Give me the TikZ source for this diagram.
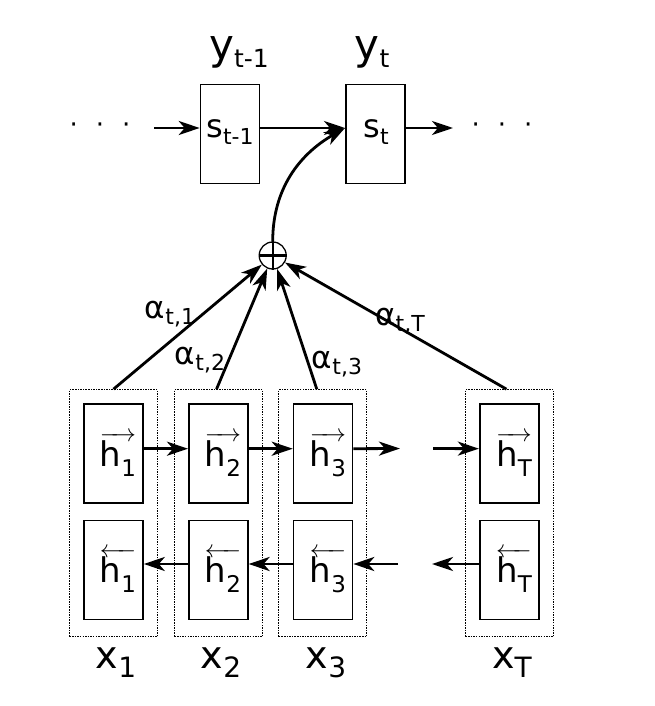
\documentclass[tikz,border=0pt]{standalone}
\usepackage{fontspec}
\setmainfont{DejaVu Sans}
\usepackage{graphicx}
\usetikzlibrary{arrows.meta}

\newcommand{\lowsub}[3]{\raisebox{-#1}{\fontsize{#2}{#2}\selectfont #3}}
\newcommand{\hfwd}[1]{$\overrightarrow{\mbox{h\lowsub{10pt}{23}{#1}}}$}
\newcommand{\hbwd}[1]{$\overleftarrow{\mbox{h\lowsub{10pt}{23}{#1}}}$}

\begin{document}
\begin{tikzpicture}[x=1pt, y=-1pt,
    cell/.style={draw, line width=1.6pt, minimum width=59pt, minimum height=99pt, inner sep=0pt},
    group/.style={draw, dash pattern=on 1.5pt off 1.1pt, line width=1.3pt, minimum width=88pt, minimum height=247pt, inner sep=0pt},
    arr/.style={-{Stealth[length=21pt, width=14pt, inset=6pt]}, line width=2.8pt},
    ylab/.style={font=\fontsize{42}{42}\selectfont, inner sep=0pt, anchor=base},
    slab/.style={font=\fontsize{32}{32}\selectfont, inner sep=0pt, anchor=base},
    hlab/.style={font=\fontsize{34}{34}\selectfont, inner sep=0pt, anchor=base},
    xlab/.style={font=\fontsize{38}{38}\selectfont, inner sep=0pt, anchor=base},
    wlab/.style={font=\fontsize{31}{31}\selectfont, inner sep=0pt}]
    \useasboundingbox (0,0) rectangle (655,706);
    % Decoder states
    \node[cell] (sprev) at (230,134) {};
    \node[cell] (st) at (375.3,134) {};
    \node[slab] (sprevtxt) at (230,137) {s\lowsub{7pt}{22}{t-1}};
    \node[slab] (sttxt) at (376,137) {s\lowsub{7pt}{22}{t}};
    \node[ylab] (yprev) at (239,60) {y\lowsub{8pt}{25}{t-1}};
    \node[ylab] (yt) at (372,60) {y\lowsub{8pt}{25}{t}};
    \node[font=\fontsize{26}{26}\selectfont, inner sep=0pt] (dotsL) at (100,128) {·\hspace{18pt}·\hspace{18pt}·};
    \node[font=\fontsize{26}{26}\selectfont, inner sep=0pt] (dotsR) at (502,128) {·\hspace{18pt}·\hspace{18pt}·};
    \coordinate (inL) at (154,128);
    \coordinate (outR) at (453,128);
    % Sum
    \node[circle, draw, line width=1.3pt, minimum size=27pt, inner sep=0pt] (plus) at (272.7,255.5) {};
    \draw[line width=2.2pt] (plus.north) -- (plus.south);
    \draw[line width=2.2pt] (plus.west) -- (plus.east);
    % Encoder annotations
    \node[group] (g1) at (113.5,513.3) {};
    \node[group] (g2) at (218.5,513.3) {};
    \node[group] (g3) at (322.8,513.3) {};
    \node[group] (gT) at (509.5,513.3) {};
    \node[cell] (hf1) at (113.5,453.7) {};
    \node[cell] (hf2) at (218.3,453.7) {};
    \node[cell] (hf3) at (323,453.7) {};
    \node[cell] (hfT) at (509.2,453.7) {};
    \node[cell] (hb1) at (113.5,570) {};
    \node[cell] (hb2) at (218.3,570) {};
    \node[cell] (hb3) at (323,570) {};
    \node[cell] (hbT) at (509.2,570) {};
    \node[hlab] (hf1txt) at (118,466) {\hfwd{1}};
    \node[hlab] (hf2txt) at (223,466) {\hfwd{2}};
    \node[hlab] (hf3txt) at (328,466) {\hfwd{3}};
    \node[hlab] (hfTtxt) at (514,466) {\hfwd{T}};
    \node[hlab] (hb1txt) at (118,582) {\hbwd{1}};
    \node[hlab] (hb2txt) at (223,582) {\hbwd{2}};
    \node[hlab] (hb3txt) at (328,582) {\hbwd{3}};
    \node[hlab] (hbTtxt) at (514,582) {\hbwd{T}};
    \node[xlab] (x1) at (116,668) {x\lowsub{9pt}{28}{1}};
    \node[xlab] (x2) at (221,668) {x\lowsub{9pt}{28}{2}};
    \node[xlab] (x3) at (326,668) {x\lowsub{9pt}{28}{3}};
    \node[xlab] (xT) at (512,668) {x\lowsub{9pt}{28}{T}};
    \coordinate (fgap) at (400,448.5);
    \coordinate (fin) at (433,448.5);
    \coordinate (bin) at (398,564);
    \coordinate (bout) at (432,564);
    % Weights
    \node[wlab] (a1) at (170,314) {α\lowsub{6pt}{22}{t,1}};
    \node[wlab] (a2) at (200,360) {α\lowsub{6pt}{22}{t,2}};
    \node[wlab] (a3) at (337,364) {α\lowsub{6pt}{22}{t,3}};
    \node[wlab] (aT) at (400,321) {α\lowsub{6pt}{22}{t,T}};
    % Edges
    \draw[arr] (inL) -- ([yshift=6pt]sprev.west);
    \draw[arr] ([yshift=6pt]sprev.east) -- ([yshift=6pt]st.west);
    \draw[arr] ([yshift=6pt]st.east) -- (outR);
    \draw[arr] (plus.north) to[out=90, in=210] ([yshift=6pt]st.west);
    \draw[arr] (g1.north) -- (plus);
    \draw[arr] ([xshift=-2pt]g2.north) -- (plus);
    \draw[arr] ([xshift=-6pt]g3.north) -- (plus);
    \draw[arr] ([xshift=-3pt]gT.north) -- (plus);
    \draw[arr] ([yshift=5pt]hf1.east) -- ([yshift=5pt]hf2.west);
    \draw[arr] ([yshift=5pt]hf2.east) -- ([yshift=5pt]hf3.west);
    \draw[arr] ([yshift=5pt]hf3.east) -- (fgap);
    \draw[arr] (fin) -- ([yshift=5pt]hfT.west);
    \draw[arr] (bin) -- ([yshift=6pt]hb3.east);
    \draw[arr] ([yshift=6pt]hb3.west) -- ([yshift=6pt]hb2.east);
    \draw[arr] ([yshift=6pt]hb2.west) -- ([yshift=6pt]hb1.east);
    \draw[arr] ([yshift=6pt]hbT.west) -- (bout);
\end{tikzpicture}
\end{document}
